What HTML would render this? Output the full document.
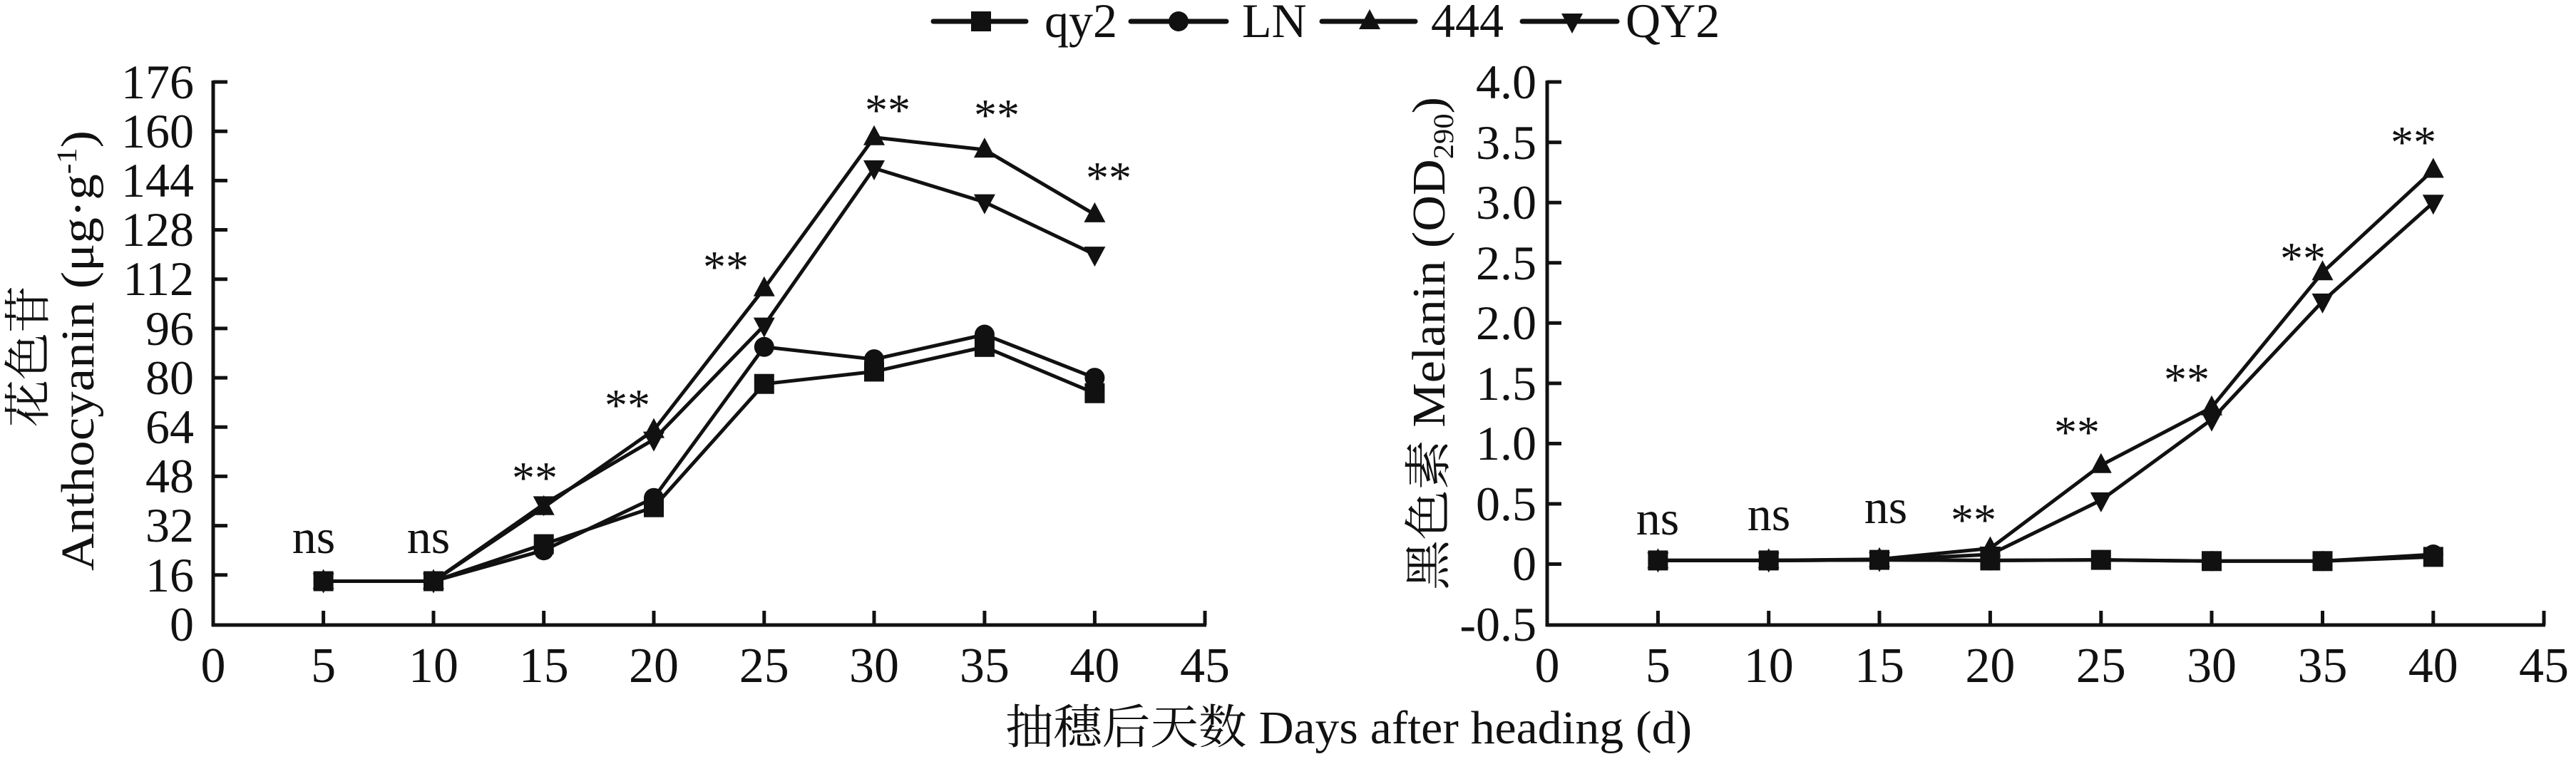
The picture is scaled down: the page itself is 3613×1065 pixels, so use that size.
<!DOCTYPE html>
<html><head><meta charset="utf-8"><style>
html,body{margin:0;padding:0;background:#fff;}
svg{display:block;}
text{font-family:"Liberation Serif","Noto Serif CJK SC","Noto Sans CJK SC",serif;fill:#111;}
</style></head><body>
<svg width="3613" height="1065" viewBox="0 0 3613 1065" xmlns="http://www.w3.org/2000/svg">
<defs>
<rect id="sq" x="-14" y="-14" width="28" height="28" fill="#111"/>
<circle id="ci" r="14" fill="#111"/>
<polygon id="tu" points="0,-17 15,11 -15,11" fill="#111"/>
<polygon id="td" points="0,17 15,-11 -15,-11" fill="#111"/>
</defs>

<!-- Legend -->
<g stroke="#111" stroke-width="7" stroke-linecap="round">
<line x1="1309" y1="30" x2="1439" y2="30"/>
<line x1="1586" y1="30" x2="1720" y2="30"/>
<line x1="1854" y1="30" x2="1985" y2="30"/>
<line x1="2135" y1="30" x2="2268" y2="30"/>
</g>
<use href="#sq" x="1376" y="30"/>
<use href="#ci" x="1653" y="30"/>
<use href="#tu" x="1921" y="30"/>
<use href="#td" x="2205" y="30"/>
<g font-size="68">
<text x="1465" y="52">qy2</text>
<text x="1742" y="52">LN</text>
<text x="2007" y="52">444</text>
<text x="2280" y="52">QY2</text>
</g>

<!-- LEFT CHART -->
<g stroke="#111" stroke-width="5" fill="none">
<line x1="299" y1="113" x2="299" y2="879"/>
<line x1="297" y1="877" x2="1692" y2="877"/>
<path d="M299 115H319M299 806.8H319M299 737.6H319M299 668.4H319M299 599.3H319M299 530.1H319M299 460.9H319M299 391.7H319M299 322.5H319M299 253.4H319M299 184.2H319"/>
<path d="M453.6 877V857M608 877V857M762.7 877V857M917 877V857M1071.8 877V857M1226 877V857M1380.9 877V857M1535.4 877V857M1690 877V857"/>
</g>
<g font-size="68" text-anchor="end">
<text x="272" y="138">176</text><text x="272" y="207">160</text><text x="272" y="276">144</text><text x="272" y="345">128</text><text x="272" y="414">112</text><text x="272" y="484">96</text><text x="272" y="553">80</text><text x="272" y="622">64</text><text x="272" y="691">48</text><text x="272" y="760">32</text><text x="272" y="830">16</text><text x="272" y="899">0</text>
</g>
<g font-size="70" text-anchor="middle">
<text x="299" y="957">0</text><text x="453.6" y="957">5</text><text x="608" y="957">10</text><text x="762.7" y="957">15</text><text x="917" y="957">20</text><text x="1071.8" y="957">25</text><text x="1226" y="957">30</text><text x="1380.9" y="957">35</text><text x="1535.4" y="957">40</text><text x="1690" y="957">45</text>
</g>
<g stroke="#111" stroke-width="5" fill="none">
<polyline points="453.6,815.5 608,815.5 762.7,763.6 917,711.7 1071.8,538.7 1226,521.4 1380.9,486.8 1535.4,551.7"/>
<polyline points="453.6,815.5 608,815.5 762.7,772.2 917,698.7 1071.8,486.8 1226,504.1 1380.9,469.5 1535.4,530.1"/>
<polyline points="453.6,815.5 608,815.5 762.7,711.7 917,603.6 1071.8,404.7 1226,192.8 1380.9,210.1 1535.4,300.9"/>
<polyline points="453.6,815.5 608,815.5 762.7,707.4 917,616.6 1071.8,456.6 1226,236 1380.9,283.6 1535.4,357.1"/>
</g>
<g>
<use href="#sq" x="453.6" y="815.5"/><use href="#sq" x="608" y="815.5"/><use href="#sq" x="762.7" y="763.6"/><use href="#sq" x="917" y="711.7"/><use href="#sq" x="1071.8" y="538.7"/><use href="#sq" x="1226" y="521.4"/><use href="#sq" x="1380.9" y="486.8"/><use href="#sq" x="1535.4" y="551.7"/>
<use href="#ci" x="453.6" y="815.5"/><use href="#ci" x="608" y="815.5"/><use href="#ci" x="762.7" y="772.2"/><use href="#ci" x="917" y="698.7"/><use href="#ci" x="1071.8" y="486.8"/><use href="#ci" x="1226" y="504.1"/><use href="#ci" x="1380.9" y="469.5"/><use href="#ci" x="1535.4" y="530.1"/>
<use href="#tu" x="453.6" y="815.5"/><use href="#tu" x="608" y="815.5"/><use href="#tu" x="762.7" y="711.7"/><use href="#tu" x="917" y="603.6"/><use href="#tu" x="1071.8" y="404.7"/><use href="#tu" x="1226" y="192.8"/><use href="#tu" x="1380.9" y="210.1"/><use href="#tu" x="1535.4" y="300.9"/>
<use href="#td" x="453.6" y="815.5"/><use href="#td" x="608" y="815.5"/><use href="#td" x="762.7" y="707.4"/><use href="#td" x="917" y="616.6"/><use href="#td" x="1071.8" y="456.6"/><use href="#td" x="1226" y="236"/><use href="#td" x="1380.9" y="283.6"/><use href="#td" x="1535.4" y="357.1"/>
</g>
<g font-size="68" text-anchor="middle">
<text x="440" y="776">ns</text><text x="601" y="776">ns</text>
</g>
<g font-size="64" text-anchor="middle">
<text x="750" y="692">**</text><text x="880" y="590">**</text><text x="1018" y="396">**</text><text x="1245" y="176">**</text><text x="1398" y="183">**</text><text x="1555" y="271">**</text>
</g>
<text font-size="66" transform="translate(62,500) rotate(-90)" text-anchor="middle">花色苷</text>
<text font-size="66" transform="translate(131,492) rotate(-90)" text-anchor="middle" textLength="618" lengthAdjust="spacingAndGlyphs">Anthocyanin (μg·g<tspan font-size="40" dy="-24">-1</tspan><tspan dy="24">)</tspan></text>

<!-- RIGHT CHART -->
<g stroke="#111" stroke-width="5" fill="none">
<line x1="2170" y1="113" x2="2170" y2="879"/>
<line x1="2168" y1="877" x2="3570" y2="877"/>
<path d="M2170 115H2190M2170 199.7H2190M2170 284.2H2190M2170 368.8H2190M2170 453.3H2190M2170 537.9H2190M2170 622.4H2190M2170 707H2190M2170 791.5H2190"/>
<path d="M2325.4 877V857M2480.7 877V857M2636 877V857M2791.4 877V857M2946.8 877V857M3102 877V857M3257.5 877V857M3412.8 877V857M3568 877V857"/>
</g>
<g font-size="68" text-anchor="end">
<text x="2155" y="138">4.0</text><text x="2155" y="223">3.5</text><text x="2155" y="307">3.0</text><text x="2155" y="392">2.5</text><text x="2155" y="476">2.0</text><text x="2155" y="561">1.5</text><text x="2155" y="645">1.0</text><text x="2155" y="730">0.5</text><text x="2155" y="814">0</text><text x="2155" y="899">-0.5</text>
</g>
<g font-size="70" text-anchor="middle">
<text x="2170" y="957">0</text><text x="2325.4" y="957">5</text><text x="2480.7" y="957">10</text><text x="2636" y="957">15</text><text x="2791.4" y="957">20</text><text x="2946.8" y="957">25</text><text x="3102" y="957">30</text><text x="3257.5" y="957">35</text><text x="3412.8" y="957">40</text><text x="3568" y="957">45</text>
</g>
<g stroke="#111" stroke-width="5" fill="none">
<polyline points="2325.4,786.4 2480.7,786.4 2636,785.6 2791.4,786.4 2946.8,785.6 3102,787.3 3257.5,787.3 3412.8,781.4"/>
<polyline points="2325.4,786.4 2480.7,786.4 2636,785.6 2791.4,786.4 2946.8,785.6 3102,787.3 3257.5,787.3 3412.8,778"/>
<polyline points="2325.4,786.4 2480.7,786.4 2636,784.7 2791.4,769.5 2946.8,652.8 3102,571.7 3257.5,382.3 3412.8,238.5"/>
<polyline points="2325.4,786.4 2480.7,786.4 2636,785.6 2791.4,778 2946.8,701.9 3102,588.6 3257.5,422.9 3412.8,284.2"/>
</g>
<g>
<use href="#ci" x="2325.4" y="786.4"/><use href="#ci" x="2480.7" y="786.4"/><use href="#ci" x="2636" y="785.6"/><use href="#ci" x="2791.4" y="786.4"/><use href="#ci" x="2946.8" y="785.6"/><use href="#ci" x="3102" y="787.3"/><use href="#ci" x="3257.5" y="787.3"/><use href="#ci" x="3412.8" y="778"/>
<use href="#sq" x="2325.4" y="786.4"/><use href="#sq" x="2480.7" y="786.4"/><use href="#sq" x="2636" y="785.6"/><use href="#sq" x="2791.4" y="786.4"/><use href="#sq" x="2946.8" y="785.6"/><use href="#sq" x="3102" y="787.3"/><use href="#sq" x="3257.5" y="787.3"/><use href="#sq" x="3412.8" y="781.4"/>
<use href="#tu" x="2325.4" y="786.4"/><use href="#tu" x="2480.7" y="786.4"/><use href="#tu" x="2636" y="784.7"/><use href="#tu" x="2791.4" y="769.5"/><use href="#tu" x="2946.8" y="652.8"/><use href="#tu" x="3102" y="571.7"/><use href="#tu" x="3257.5" y="382.3"/><use href="#tu" x="3412.8" y="238.5"/>
<use href="#td" x="2325.4" y="786.4"/><use href="#td" x="2480.7" y="786.4"/><use href="#td" x="2636" y="785.6"/><use href="#td" x="2791.4" y="778"/><use href="#td" x="2946.8" y="701.9"/><use href="#td" x="3102" y="588.6"/><use href="#td" x="3257.5" y="422.9"/><use href="#td" x="3412.8" y="284.2"/>
</g>
<g font-size="68" text-anchor="middle">
<text x="2325" y="750">ns</text><text x="2481" y="744">ns</text><text x="2645" y="734">ns</text>
</g>
<g font-size="64" text-anchor="middle">
<text x="2768" y="751">**</text><text x="2913" y="628">**</text><text x="3067" y="554">**</text><text x="3230" y="384">**</text><text x="3385" y="221">**</text>
</g>
<text font-size="66" transform="translate(2026,482) rotate(-90)" text-anchor="middle" textLength="692" lengthAdjust="spacingAndGlyphs">黑色素 Melanin (OD<tspan font-size="40" dy="12">290</tspan><tspan dy="-12">)</tspan></text>

<!-- X label -->
<text font-size="66" x="1410" y="1043" textLength="963" lengthAdjust="spacingAndGlyphs">抽穗后天数 Days after heading (d)</text>
</svg>
</body></html>
